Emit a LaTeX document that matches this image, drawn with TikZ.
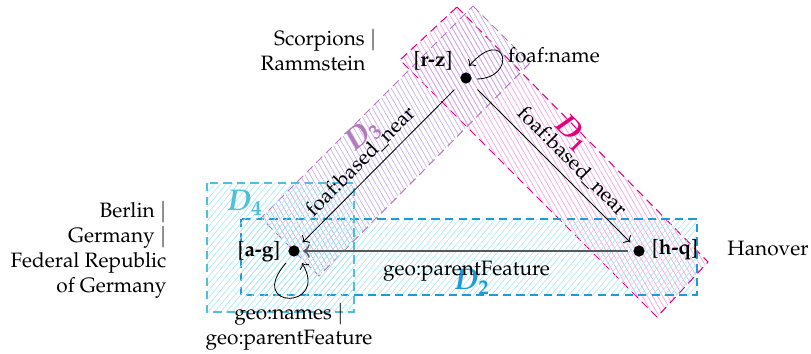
\documentclass[tikz,border=0pt]{standalone}
\usepackage[T1]{fontenc}
\usepackage{mathpazo}
\usepackage{amsmath}
\usepackage{bm}
\usepackage{xcolor}
\usetikzlibrary{arrows.meta,positioning,calc,patterns.meta}
\definecolor{pinkD}{RGB}{228,0,124}
\definecolor{pinkH}{RGB}{244,160,232}
\definecolor{lilacD}{RGB}{178,122,184}
\definecolor{lilacH}{RGB}{196,168,238}
\definecolor{blueD}{RGB}{30,155,215}
\definecolor{cyanD}{RGB}{78,192,218}
\definecolor{cyanH}{RGB}{168,232,248}
\newcommand{\sep}{\ensuremath{|}}
\tikzset{
  vtx/.style={circle, fill=black, inner sep=0pt, minimum size=5.4pt},
  txt/.style={inner sep=2pt, align=center},
  reg/.style={dash pattern=on 4pt off 2.5pt, line width=0.5pt},
  diagreg/.style={reg, pattern={Lines[angle=-60,distance=2.1pt,line width=0.3pt]}},
  flatreg/.style={reg, pattern={Lines[angle=50,distance=2.2pt,line width=0.3pt]},
                  pattern color=cyanH},
  dlabel/.style={font=\Large, inner sep=0pt},
  relarr/.style={->, thin, shorten <=5pt, shorten >=3pt},
  featarr/.style={->, line width=0.7pt, draw=black!65, shorten <=2.5pt, shorten >=1.5pt},
  selfarr/.style={->, thin},
}
\begin{document}
\begin{tikzpicture}[x=0.4808pt, y=-0.4808pt]
  \useasboundingbox (0,0) rectangle (811,354);
  % regions
  \draw[diagreg, draw=pinkD, pattern color=pinkH]
        (457,7) -- (708,262) -- (657,317) -- (400,60) -- cycle;
  \draw[diagreg, draw=lilacD, pattern color=lilacH]
        (473,6) -- (530,63) -- (319,276) -- (261,218) -- cycle;
  \draw[flatreg, draw=blueD] (241,219) rectangle (697,295);
  \draw[flatreg, draw=cyanD] (207,183) rectangle (354,312);
  \node[dlabel, text=pinkD, rotate=-45] (d1) at (572,133) {$\bm{D_1}$};
  \node[dlabel, text=lilacD, rotate=40] (d3) at (363,135) {$\bm{D_3}$};
  \node[dlabel, text=cyanD] (d4) at (245,203) {$\bm{D_4}$};
  \node[dlabel, text=blueD] (d2) at (472,282) {$\bm{D_2}$};
  % resources
  \node[vtx] (rz) at (466,78) {};
  \node[vtx] (ag) at (294,251) {};
  \node[vtx] (hq) at (639,251) {};
  \node[txt] (rzlbl) at (433,61) {[\textbf{r-z}]};
  \node[txt] (aglbl) at (259,252) {[\textbf{a-g}]};
  \node[txt] (hqlbl) at (675,250) {[\textbf{h-q}]};
  \node[txt, align=right, anchor=east] (bands) at (381,50)
        {Scorpions \sep\\Rammstein\hspace*{5.3pt}};
  \node[txt, align=right, anchor=east] (cities) at (171,250)
        {Berlin \sep\\Germany \sep\\Federal Republic\\of Germany};
  \node[txt] (hanover) at (768,249) {Hanover};
  % properties
  \draw[relarr] (rz) -- node[sloped, above, pos=0.55] {foaf:based\_near} (ag);
  \draw[relarr] (rz) -- node[sloped, above, pos=0.55] {foaf:based\_near} (hq);
  \draw[featarr] (hq) -- node[below=1pt] {geo:parentFeature} (ag);
  \draw[selfarr] (477,79) .. controls (518,78) and (506,24) .. (469,66);
  \node[txt] (namelbl) at (554,55) {foaf:name};
  \draw[selfarr] (286,263) .. controls (245,310) and (330,310) .. (302,263);
  \node[txt] (geolbl) at (289,327) {geo:names \sep\\geo:parentFeature};
\end{tikzpicture}
\end{document}
